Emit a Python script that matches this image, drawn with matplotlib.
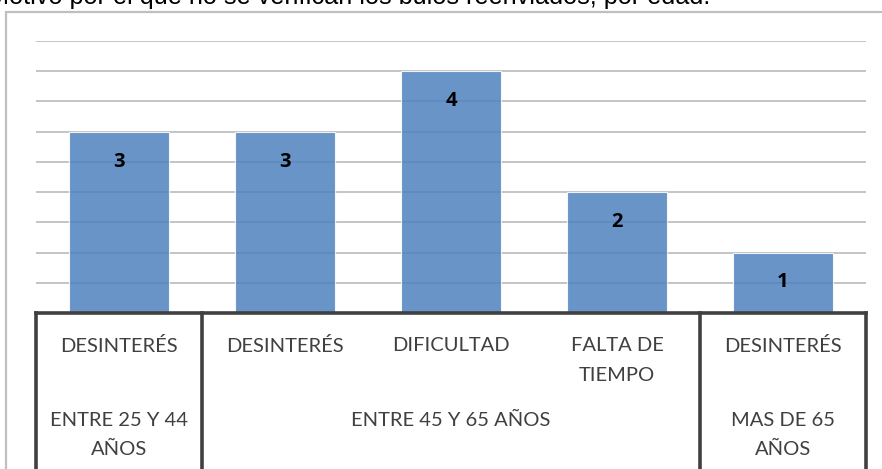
import numpy as np
import matplotlib.pyplot as plt
from matplotlib.patches import Rectangle

# data
categories = ["DESINTERÉS", "DESINTERÉS", "DIFICULTAD", "FALTA DE\nTIEMPO", "DESINTERÉS"]
values = [3, 3, 4, 2, 1]
groups = ["ENTRE 25 Y 44\nAÑOS", "ENTRE 45 Y 65 AÑOS", "MAS DE 65\nAÑOS"]
group_sizes = [1, 3, 1]
title = "Motivo por el que no se verifican los bulos reenviados, por edad."

W, H = 882, 469
fig = plt.figure(figsize=(W / 100, H / 100), dpi=100)

# outer chart frame (runs past the right and bottom edges)
fig.patches.append(Rectangle((6 / W, -0.1), 1.0, (H - 12) / H + 0.1,
                             transform=fig.transFigure, fill=False,
                             edgecolor="#bfbfbf", linewidth=1.6))

# caption text clipped at the top
fig.text(710 / W, 1 - 4 / H, title, ha="right", va="baseline",
         fontsize=18.2, family="Liberation Sans", color="black")

ax = fig.add_axes([36 / W, (H - 313) / H, 830 / W, 272 / H])
x = np.arange(len(categories))
ax.set_xlim(-0.5, len(categories) - 0.5)
ax.set_ylim(0, 4.5)
ax.set_yticks(np.arange(0.5, 4.51, 0.5))
ax.yaxis.grid(True, color="#bfbfbf", linewidth=1.3)
ax.set_axisbelow(True)
ax.tick_params(left=False, bottom=False, labelleft=False, labelbottom=False)
for s in ax.spines.values():
    s.set_visible(False)

bars = ax.bar(x, values, width=0.6, color="#4F81BD", alpha=0.85,
              edgecolor="white", linewidth=0.8, zorder=2)
for b, v in zip(bars, values):
    ax.annotate(str(v), (b.get_x() + b.get_width() / 2, v), xytext=(0, -21.5),
                textcoords="offset points", ha="center", va="center",
                fontsize=14.5, fontweight="bold", family="Open Sans", color="black")

# table-like axis under the bars
line_kw = dict(color="#404040", linewidth=2.6, clip_on=False, zorder=3,
               solid_capstyle="projecting")
ax.plot([-0.5, len(categories) - 0.5], [0, 0], **line_kw)
trans = ax.get_xaxis_transform()
bounds = np.concatenate([[0], np.cumsum(group_sizes)]) - 0.5
for bx in bounds:
    ax.plot([bx, bx], [0, -0.7], transform=trans, **line_kw)

for i, lab in enumerate(categories):
    ax.text(i, -0.09, lab, transform=trans, ha="center", va="top",
            fontsize=14.5, family="Lato", color="#404040", linespacing=1.9)

for g, lo, hi in zip(groups, bounds[:-1], bounds[1:]):
    ax.text((lo + hi) / 2, -0.363, g, transform=trans, ha="center", va="top",
            fontsize=14.5, family="Lato", color="#404040", linespacing=1.9)

fig.savefig("out.png", dpi=100)
